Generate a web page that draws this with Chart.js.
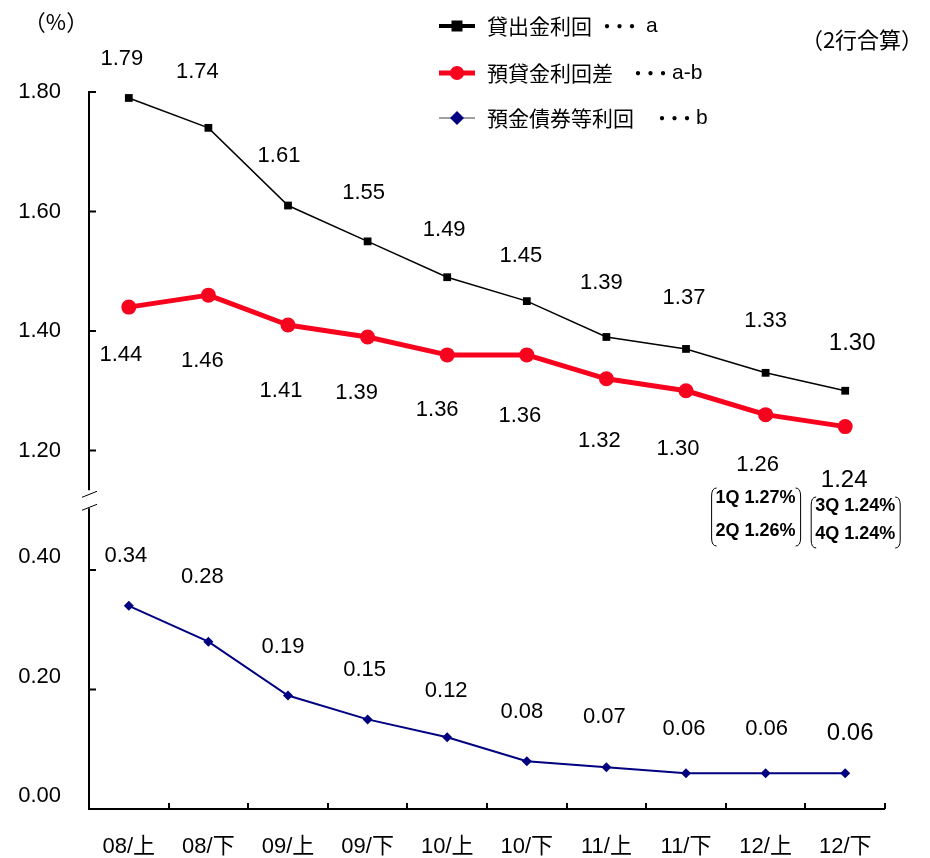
<!DOCTYPE html>
<html>
<head>
<meta charset="utf-8">
<script src="https://cdn.jsdelivr.net/npm/chart.js@4.4.1/dist/chart.umd.min.js"></script>
<style>
  html, body { margin: 0; padding: 0; background: #fff; }
  #wrap { width: 930px; height: 858px; position: relative; }
</style>
</head>
<body>
<div id="wrap"><canvas id="c" width="930" height="858"></canvas></div>
<script>
// ---- data ----
const periods = ['08/上', '08/下', '09/上', '09/下', '10/上', '10/下', '11/上', '11/下', '12/上', '12/下'];
const loanYield = [1.79, 1.74, 1.61, 1.55, 1.49, 1.45, 1.39, 1.37, 1.33, 1.30];      // a
const loanDepositSpread = [1.44, 1.46, 1.41, 1.39, 1.36, 1.36, 1.32, 1.30, 1.26, 1.24]; // a-b
const depositYield = [0.34, 0.28, 0.19, 0.15, 0.12, 0.08, 0.07, 0.06, 0.06, 0.06];    // b
const upperTicks = [1.20, 1.40, 1.60, 1.80];
const lowerTicks = [0.00, 0.20, 0.40];
const upperRange = [1.12, 1.80];
const lowerRange = [0.00, 0.52];
const quarterPeriods = ['12/上', '12/下'];
const quarterLabels = [['1Q', '2Q'], ['3Q', '4Q']];
const quarterSpread = [[1.27, 1.26], [1.24, 1.24]];

const RED = 'rgb(248,3,30)';
const NAVY = '#000080';
const LATIN = "'Liberation Sans', Arial, 'Noto Sans CJK JP', sans-serif";
const CJK = "'Noto Sans CJK JP', 'Liberation Sans', sans-serif";

Chart.defaults.font.family = LATIN;
Chart.defaults.color = '#000';

// per-label placement of value texts relative to their point
const labelNudge = [
  { dx: [-7, -11, -9, -4, -3, -6, -5, -2, 0, 7],   dy: [-39, -56, -50, -48, -47, -45, -54, -51, -52, -47] },
  { dx: [-8, -6, -7, -11, -10, -7, -7, -8, -8, -1], dy: [48, 66, 66, 56, 55, 61, 62, 58, 50, 54] },
  { dx: [-3, -6, -5, -3, -1, -5, -2, -2, 1, 5],     dy: [-50, -65, -49, -49, -46, -49, -50, -44, -44, -40] }
];

const decor = {
  id: 'decor',
  beforeDatasetsDraw(chart) {
    const ctx = chart.ctx;
    const xs = chart.scales.x, yt = chart.scales.yTop, yl = chart.scales.yLow;
    const left = chart.chartArea.left;
    const bottom = chart.chartArea.bottom;
    ctx.save();
    ctx.strokeStyle = '#000';
    ctx.lineWidth = 2;
    ctx.lineCap = 'butt';
    // broken value axis
    const breakY = yt.bottom;
    ctx.beginPath();
    ctx.moveTo(left, yt.top);
    ctx.lineTo(left, breakY - 8);
    ctx.moveTo(left, breakY + 10);
    ctx.lineTo(left, bottom + 1);
    ctx.stroke();
    // inward tick marks
    ctx.beginPath();
    upperTicks.forEach(v => { const y = yt.getPixelForValue(v); ctx.moveTo(left - 1, y); ctx.lineTo(left + 7, y); });
    lowerTicks.forEach(v => { const y = yl.getPixelForValue(v); ctx.moveTo(left - 1, y); ctx.lineTo(left + 7, y); });
    ctx.stroke();
    // break marks
    ctx.lineWidth = 1;
    ctx.beginPath();
    ctx.moveTo(left - 7, breakY - 1); ctx.lineTo(left + 8, breakY - 7);
    ctx.moveTo(left - 7, breakY + 12); ctx.lineTo(left + 8, breakY + 6);
    ctx.stroke();
    // category axis with upward ticks at category boundaries
    ctx.lineWidth = 2;
    ctx.beginPath();
    ctx.moveTo(left - 1, bottom);
    ctx.lineTo(xs.right, bottom);
    const n = periods.length;
    for (let i = 0; i <= n; i++) {
      const x = Math.round(xs.left + i * xs.width / n);
      ctx.moveTo(x, bottom);
      ctx.lineTo(x, bottom - 6);
    }
    ctx.stroke();
    ctx.restore();
  },
  afterDatasetsDraw(chart) {
    const ctx = chart.ctx;
    const xs = chart.scales.x;
    ctx.save();
    // value labels
    ctx.textAlign = 'center';
    ctx.textBaseline = 'middle';
    ctx.fillStyle = '#000';
    chart.data.datasets.forEach((ds, di) => {
      const meta = chart.getDatasetMeta(di);
      meta.data.forEach((pt, i) => {
        const nudge = labelNudge[di];
        ctx.font = (i === ds.data.length - 1 ? '24px ' : '22px ') + LATIN;
        ctx.fillText(ds.data[i].toFixed(2), pt.x + nudge.dx[i], pt.y + nudge.dy[i]);
      });
    });

    // quarterly breakdown notes
    ctx.font = 'bold 18px ' + LATIN;
    const noteRows = [[498, 531], [506, 534]];
    const noteBox = [[488, 546], [497, 548]];
    const noteDx = [-10, 10];
    quarterPeriods.forEach((p, k) => {
      const cx = xs.getPixelForValue(periods.indexOf(p)) + noteDx[k];
      quarterLabels[k].forEach((q, r) => {
        ctx.fillText(q + ' ' + quarterSpread[k][r].toFixed(2) + '%', cx, noteRows[k][r]);
      });
      const [top, bot] = noteBox[k];
      const hl = cx - 44, hr = cx + 45;
      ctx.lineWidth = 1;
      ctx.strokeStyle = '#000';
      ctx.beginPath();
      ctx.moveTo(hl + 5, top);
      ctx.quadraticCurveTo(hl, top, hl, top + 8);
      ctx.lineTo(hl, bot - 8);
      ctx.quadraticCurveTo(hl, bot, hl + 5, bot);
      ctx.moveTo(hr - 5, top);
      ctx.quadraticCurveTo(hr, top, hr, top + 8);
      ctx.lineTo(hr, bot - 8);
      ctx.quadraticCurveTo(hr, bot, hr - 5, bot);
      ctx.stroke();
    });

    // unit and scope captions
    ctx.font = '22px ' + CJK;
    ctx.fillText('（%）', 56, 22);
    ctx.fillText('（2行合算）', 862, 40);

    // legend
    const rowY = [26, 73, 118];
    const dotX = [597, 628, 652];
    const tailX = [646, 672, 696];
    chart.data.datasets.forEach((ds, di) => {
      const y = rowY[di];
      ctx.save();
      ctx.lineCap = 'butt';
      ctx.strokeStyle = di === 2 ? '#808080' : ds.borderColor;
      ctx.lineWidth = di === 0 ? 4 : (di === 1 ? 5 : 1.5);
      ctx.beginPath();
      ctx.moveTo(439, y);
      ctx.lineTo(475, y);
      ctx.stroke();
      ctx.fillStyle = ds.backgroundColor;
      ctx.beginPath();
      if (di === 0) {
        ctx.rect(451.5, y - 5.5, 11, 11);
      } else if (di === 1) {
        ctx.arc(457, y, 7, 0, Math.PI * 2);
      } else {
        ctx.moveTo(457, y - 7); ctx.lineTo(464, y); ctx.lineTo(457, y + 7); ctx.lineTo(450, y);
        ctx.closePath();
      }
      ctx.fill();
      ctx.restore();

      ctx.textAlign = 'left';
      ctx.textBaseline = 'middle';
      ctx.fillStyle = '#000';
      ctx.font = '21px ' + CJK;
      ctx.fillText(ds.label, 487, y);
      ctx.font = '20px ' + CJK;
      if ('letterSpacing' in ctx) ctx.letterSpacing = '-7.5px';
      ctx.fillText('・・・', dotX[di], y);
      if ('letterSpacing' in ctx) ctx.letterSpacing = '0px';
      ctx.font = '21px ' + LATIN;
      ctx.fillText(ds.suffix, tailX[di], y);
    });
    ctx.restore();
  }
};

const tickFont = { size: 22, family: LATIN };

new Chart(document.getElementById('c'), {
  type: 'line',
  data: {
    labels: periods,
    datasets: [
      {
        label: '貸出金利回', suffix: 'a', data: loanYield, yAxisID: 'yTop',
        borderColor: '#000', backgroundColor: '#000', borderWidth: 1.5,
        pointStyle: 'rect', pointRadius: 5.5, pointBorderWidth: 0, pointHoverRadius: 5.5,
        tension: 0, clip: false
      },
      {
        label: '預貸金利回差', suffix: 'a-b', data: loanDepositSpread, yAxisID: 'yTop',
        borderColor: RED, backgroundColor: RED, borderWidth: 5, borderJoinStyle: 'round',
        pointStyle: 'circle', pointRadius: 7.5, pointBorderWidth: 0, pointHoverRadius: 7.5,
        tension: 0, clip: false
      },
      {
        label: '預金債券等利回', suffix: 'b', data: depositYield, yAxisID: 'yLow',
        borderColor: NAVY, backgroundColor: NAVY, borderWidth: 2,
        pointStyle: 'rectRot', pointRadius: 5, pointBorderWidth: 0, pointHoverRadius: 5,
        tension: 0, clip: false
      }
    ]
  },
  options: {
    responsive: false,
    animation: false,
    devicePixelRatio: 1,
    events: [],
    layout: { padding: { top: 92, right: 45, left: 0, bottom: 0 } },
    plugins: { legend: { display: false }, tooltip: { enabled: false } },
    scales: {
      x: {
        type: 'category',
        offset: true,
        grid: { display: false, drawTicks: false },
        border: { display: false },
        ticks: { font: tickFont, color: '#000', padding: 25, maxRotation: 0, autoSkip: false },
        afterFit(s) { s.height = 49; }
      },
      yLow: {
        type: 'linear', position: 'left',
        stack: 'broken', stackWeight: lowerRange[1] - lowerRange[0],
        min: lowerRange[0], max: lowerRange[1],
        afterBuildTicks(s) { s.ticks = lowerTicks.map(v => ({ value: v })); },
        ticks: { font: tickFont, color: '#000', padding: 28, labelOffset: -13, callback: v => Number(v).toFixed(2) },
        grid: { display: false, drawTicks: false },
        border: { display: false },
        afterFit(s) { s.width = 89; }
      },
      yTop: {
        type: 'linear', position: 'left',
        stack: 'broken', stackWeight: upperRange[1] - upperRange[0],
        min: upperRange[0], max: upperRange[1],
        afterBuildTicks(s) { s.ticks = upperTicks.map(v => ({ value: v })); },
        ticks: { font: tickFont, color: '#000', padding: 28, callback: v => Number(v).toFixed(2) },
        grid: { display: false, drawTicks: false },
        border: { display: false },
        afterFit(s) { s.width = 89; }
      }
    }
  },
  plugins: [decor]
});
</script>
</body>
</html>
